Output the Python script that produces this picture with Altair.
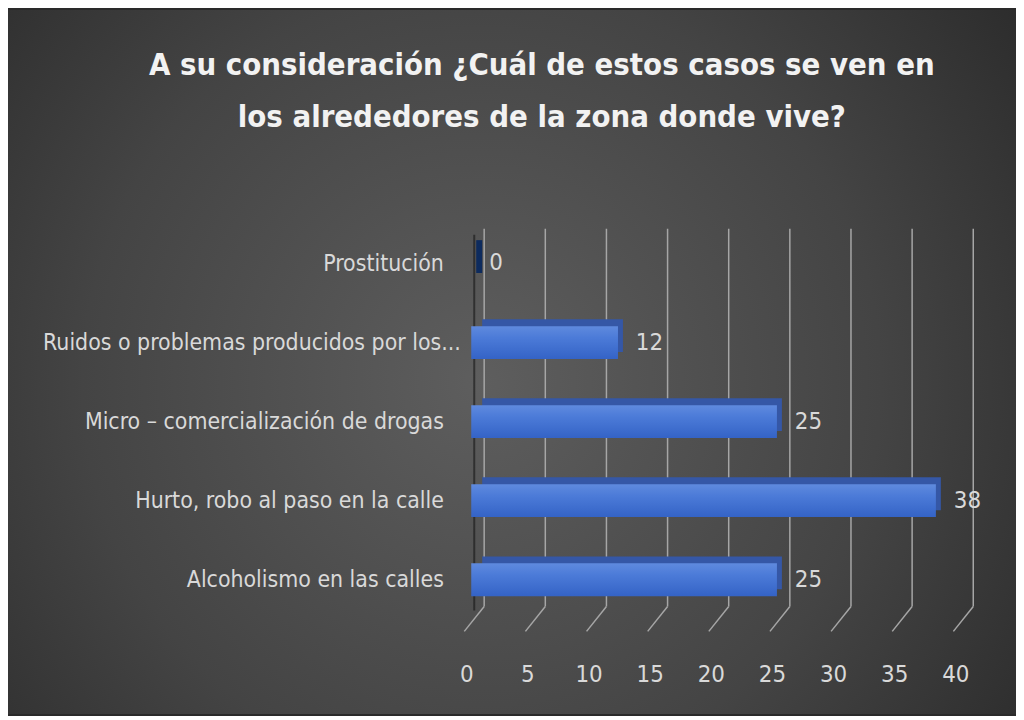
import altair as alt
import pandas as pd

categories = [
    "Prostitución",
    "Ruidos o problemas producidos por los...",
    "Micro – comercialización de drogas ",
    "Hurto, robo al paso en la calle",
    "Alcoholismo en las calles",
]
values = [0, 12, 25, 38, 25]
ticks = [0, 5, 10, 15, 20, 25, 30, 35, 40]
title_lines = ["A su consideración ¿Cuál de estos casos se ven en",
               "los alrededores de la zona donde vive?"]

df = pd.DataFrame({"cat": categories, "val": values})
tdf = pd.DataFrame({"t": ticks})
bg = pd.DataFrame({"a": [0]})

PW, PH = 492, 404
PL, PT, PR, PB = 466, 212, 56, 92

FONT = "Liberation Sans Narrow, DejaVu Sans Condensed, sans-serif"
TXT = "#d9d9d9"

xs = alt.Scale(domain=[0, 40], nice=False, zero=True)
ys = alt.Scale(type="point", padding=0.54, domain=categories)

background = alt.Chart(bg).mark_rect(
    clip=False,
    fill={
        "gradient": "radial",
        "x1": 0.47, "y1": 0.52, "r1": 0,
        "x2": 0.47, "y2": 0.52, "r2": 0.72,
        "stops": [
            {"offset": 0, "color": "#5e5e5e"},
            {"offset": 0.55, "color": "#444444"},
            {"offset": 1, "color": "#262626"},
        ],
    },
).encode(
    x=alt.value(-PL), x2=alt.value(PW + PR),
    y=alt.value(-PT), y2=alt.value(PH + PB),
)

grid = alt.Chart(tdf).mark_rule(color="#a6a6a6", strokeWidth=1.5, xOffset=13, clip=False).encode(
    x=alt.X("t:Q", scale=xs, axis=alt.Axis(
        values=ticks, labelFontSize=24, labelColor=TXT, labelFont=FONT,
        labelPadding=40, labelOffset=-5, labelFlush=False, labelOverlap=False,
        domain=False, ticks=False, grid=False, title=None, zindex=2)),
    y=alt.value(8), y2=alt.value(388),
)

floor = alt.Chart(tdf).mark_rule(color="#a6a6a6", strokeWidth=1.5, xOffset=13, x2Offset=-7, clip=False).encode(
    x=alt.X("t:Q", scale=xs), x2="t:Q",
    y=alt.value(388), y2=alt.value(413),
)

wall = alt.Chart(bg).mark_rule(color="#151515", strokeWidth=2, opacity=0.6, clip=False).encode(
    x=alt.value(3), y=alt.value(14), y2=alt.value(392),
)

depth = alt.Chart(df).mark_bar(size=33, xOffset=5, x2Offset=11, yOffset=-7, y2Offset=-7, clip=False).encode(
    y=alt.Y("cat:N", scale=ys, sort=categories),
    x=alt.X("val:Q", scale=xs), x2=alt.datum(0),
    color=alt.condition("datum.val == 0", alt.value("#0d2b5e"), alt.value("#3557a6")),
)

front = alt.Chart(df).mark_bar(
    size=33, clip=False,
    fill={
        "gradient": "linear", "x1": 0, "y1": 0, "x2": 0, "y2": 1,
        "stops": [
            {"offset": 0, "color": "#5f8ade"},
            {"offset": 0.35, "color": "#4c7bd8"},
            {"offset": 1, "color": "#3463c6"},
        ],
    },
).encode(
    y=alt.Y("cat:N", scale=ys, sort=categories, axis=alt.Axis(
        labelFontSize=23, labelColor=TXT, labelFont=FONT,
        labelPadding={"expr": "datum.label == '" + categories[1] + "' ? 11 : 28"},
        labelLimit=500, domain=False, ticks=False, grid=False, title=None, zindex=2)),
    x=alt.X("val:Q", scale=xs),
)

labels = alt.Chart(df).mark_text(
    align="left", baseline="middle", dx=18, fontSize=24, font=FONT, color=TXT, clip=False
).encode(
    y=alt.Y("cat:N", scale=ys, sort=categories),
    x=alt.X("val:Q", scale=xs),
    text="val:Q",
)

chart = alt.layer(background, grid, floor, wall, depth, front, labels).properties(
    width=PW, height=PH,
    autosize=alt.AutoSizeParams(type="none"),
    padding={"left": PL, "top": PT, "right": PR, "bottom": PB},
    background="#2a2a2a",
    title=alt.TitleParams(
        text=title_lines, fontSize=31, font="DejaVu Sans Condensed, sans-serif",
        fontWeight="bold", color="#f2f2f2", anchor="middle", frame="group", dx=-175,
        offset=-125, lineHeight=53, zindex=2,
    ),
).configure_view(stroke=None)

chart.save("out.html", embed_options={"renderer": "svg", "actions": False})
